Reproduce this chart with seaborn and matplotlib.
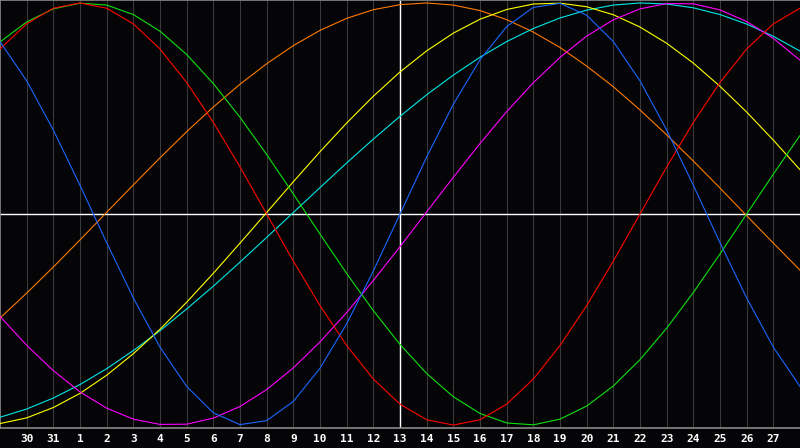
from __future__ import annotations

import matplotlib

matplotlib.use("Agg")
import matplotlib.pyplot as plt
import pandas as pd
import seaborn as sns

# day slots across the chart (slot 0 = left edge, slot 30 = right edge)
slots = list(range(31))
tick_slots = list(range(1, 30))
tick_labels = ["30", "31"] + [str(d) for d in range(1, 28)]
today_slot = 15

# values, one per day slot
physical = [0.817, 0.631, 0.398, 0.136, -0.136, -0.398, -0.631, -0.817, -0.942, -0.998,
            -0.979, -0.888, -0.731, -0.520, -0.270, 0.0, 0.270, 0.520, 0.731, 0.888,
            0.979, 0.998, 0.942, 0.817, 0.631, 0.398, 0.136, -0.136, -0.398, -0.631, -0.817]
emotional = [0.782, 0.901, 0.975, 1.0, 0.975, 0.901, 0.782, 0.623, 0.434, 0.223,
             0.0, -0.223, -0.434, -0.623, -0.782, -0.901, -0.975, -1.0, -0.975, -0.901,
             -0.782, -0.623, -0.434, -0.223, 0.0, 0.223, 0.434, 0.623, 0.782, 0.901, 0.975]
intellectual = [0.815, 0.910, 0.972, 0.999, 0.990, 0.945, 0.866, 0.756, 0.618, 0.458,
                0.282, 0.095, -0.095, -0.282, -0.458, -0.618, -0.756, -0.866, -0.945, -0.990,
                -0.999, -0.972, -0.910, -0.815, -0.690, -0.541, -0.372, -0.189, 0.0, 0.189, 0.372]
intuitive = [-0.485, -0.622, -0.742, -0.843, -0.920, -0.972, -0.997, -0.996, -0.967, -0.912,
             -0.832, -0.729, -0.606, -0.467, -0.315, -0.155, 0.010, 0.174, 0.334, 0.485,
             0.622, 0.742, 0.843, 0.920, 0.972, 0.997, 0.996, 0.967, 0.912, 0.832, 0.729]
aesthetic = [-0.993, -0.966, -0.917, -0.850, -0.764, -0.662, -0.546, -0.418, -0.281, -0.138,
             0.007, 0.153, 0.295, 0.431, 0.558, 0.673, 0.773, 0.857, 0.923, 0.969,
             0.995, 0.999, 0.982, 0.944, 0.886, 0.809, 0.715, 0.605, 0.483, 0.350, 0.210]
awareness = [-0.493, -0.375, -0.251, -0.123, 0.008, 0.138, 0.266, 0.390, 0.507, 0.615,
             0.712, 0.798, 0.870, 0.927, 0.968, 0.992, 1.0, 0.990, 0.964, 0.921,
             0.862, 0.789, 0.701, 0.603, 0.493, 0.375, 0.251, 0.123, -0.008, -0.138, -0.266]
spiritual = [-0.963, -0.924, -0.872, -0.808, -0.733, -0.647, -0.553, -0.450, -0.342, -0.228,
             -0.111, 0.007, 0.125, 0.242, 0.355, 0.463, 0.565, 0.658, 0.743, 0.817,
             0.879, 0.929, 0.966, 0.990, 1.0, 0.995, 0.977, 0.945, 0.900, 0.842, 0.772]

series = {
    "awareness": awareness,
    "spiritual": spiritual,
    "aesthetic": aesthetic,
    "intuitive": intuitive,
    "intellectual": intellectual,
    "emotional": emotional,
    "physical": physical,
}
palette = {
    "awareness": "#ff7a00",
    "spiritual": "#00e6e6",
    "aesthetic": "#ffff00",
    "intuitive": "#ff00ff",
    "intellectual": "#10e010",
    "emotional": "#ff0000",
    "physical": "#1a66ff",
}

BG = "#050507"


def build_frame() -> pd.DataFrame:
    rows = []
    for name, values in series.items():
        for slot, value in zip(slots, values):
            rows.append({"slot": slot, "value": value, "cycle": name})
    return pd.DataFrame(rows)


def main() -> None:
    df = build_frame()
    sns.set_style("dark")
    fig = plt.figure(figsize=(8, 4.48), dpi=100, facecolor=BG)
    ax = fig.add_axes([0, 20 / 448, 1, 428 / 448])
    ax.set_facecolor(BG)

    for slot in tick_slots:
        ax.axvline(slot, color="#3a3a3a", lw=0.8, zorder=1)
    ax.axhline(0, color="white", lw=1.0, zorder=1.5)
    ax.axvline(today_slot, color="white", lw=1.0, zorder=1.5)

    sns.lineplot(data=df, x="slot", y="value", hue="cycle", palette=palette,
                 hue_order=list(series.keys()), legend=False, lw=0.8, ax=ax, zorder=3)

    ax.set_xlim(0, 30)
    ax.set_ylim(-1.014, 1.014)
    ax.set_xticks(tick_slots)
    ax.set_xticklabels(tick_labels, family="DejaVu Sans Mono", weight="bold",
                       fontsize=8, color="white")
    ax.tick_params(axis="x", length=0, pad=4)
    ax.set_yticks([])
    ax.set_xlabel("")
    ax.set_ylabel("")
    ax.grid(False)
    for side in ("left", "top", "bottom"):
        ax.spines[side].set_visible(True)
        ax.spines[side].set_color("#8a8a8a")
        ax.spines[side].set_linewidth(1.2)
    ax.spines["right"].set_visible(False)

    fig.savefig("out.png", dpi=100, facecolor=BG)
    plt.close(fig)


if __name__ == "__main__":
    main()
